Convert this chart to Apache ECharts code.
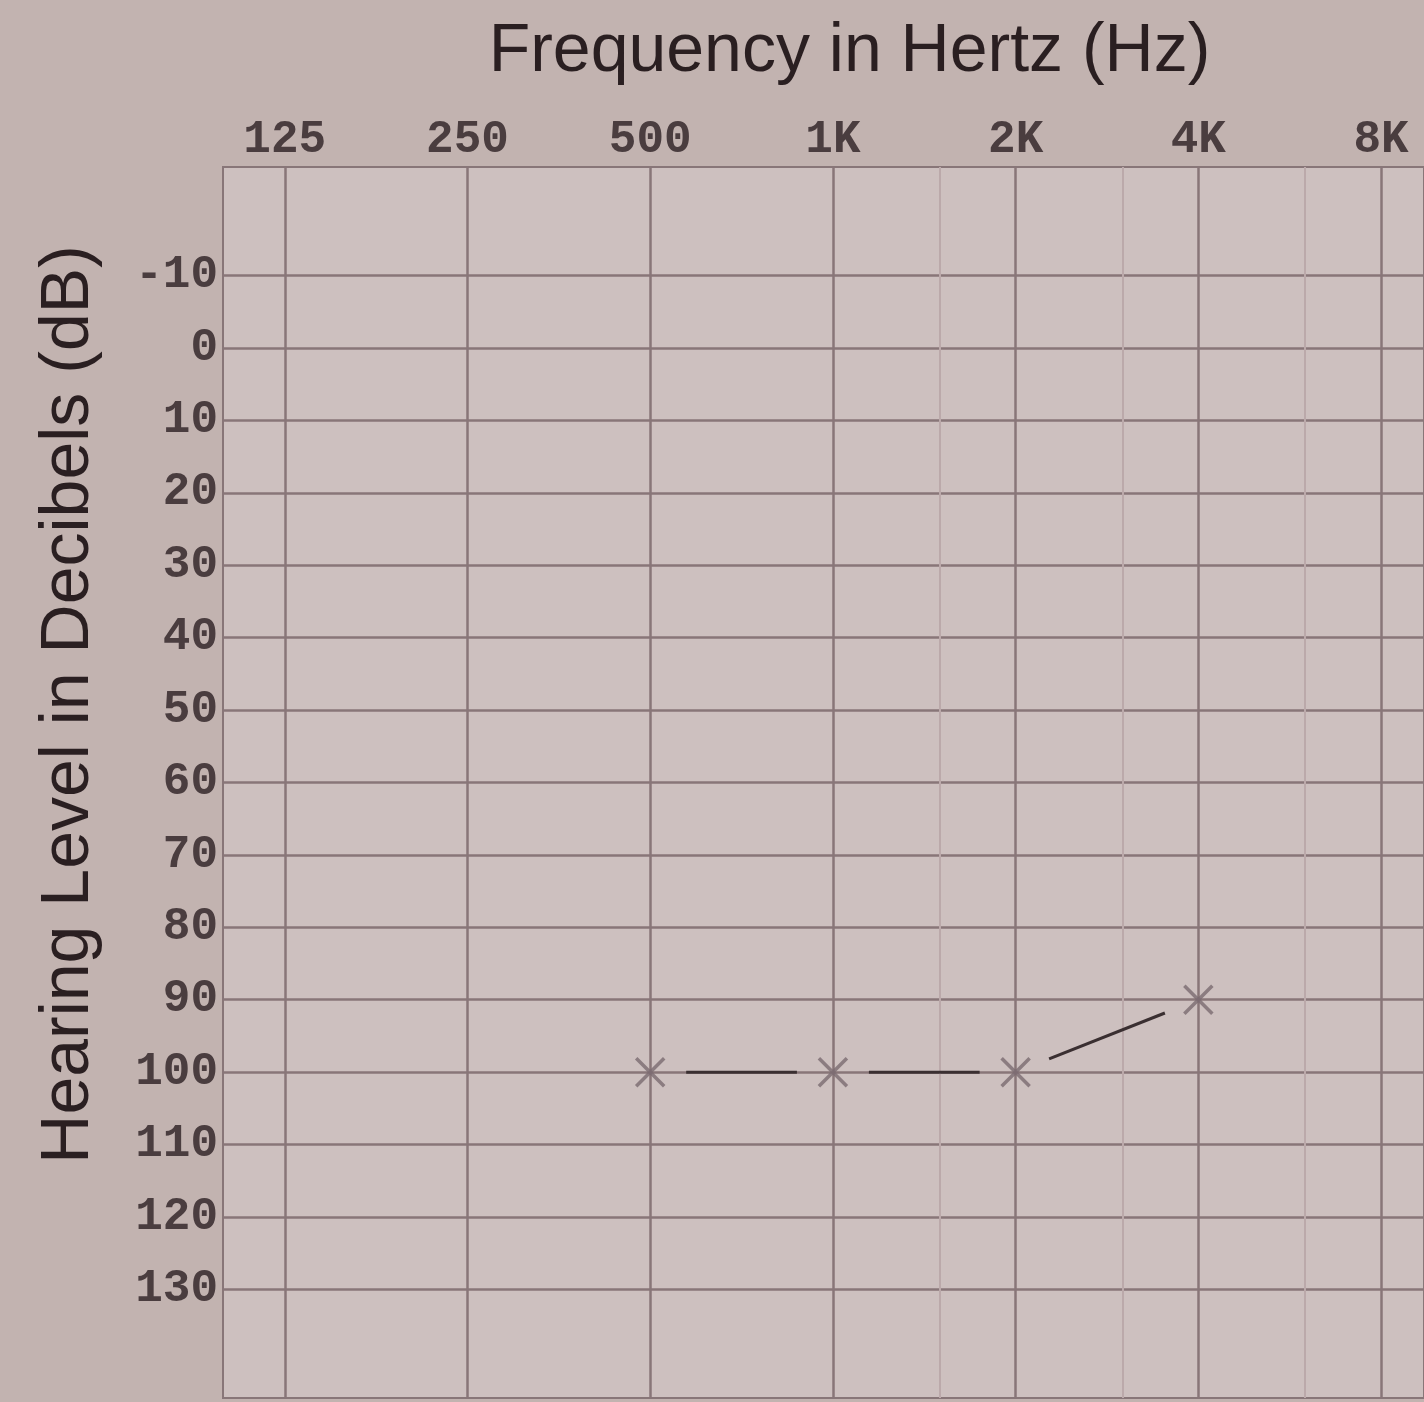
<!DOCTYPE html>
<html>
<head>
<meta charset="utf-8">
<script src="https://cdn.jsdelivr.net/npm/echarts@6/dist/echarts.min.js"></script>
<style>
  html, body { margin: 0; padding: 0; background: #c2b3b0; }
  #chart { width: 1424px; height: 1402px; }
</style>
</head>
<body>
<div id="chart"></div>
<script>
// frequencies across the top (Hz) and how they are printed
var freqs = [125, 250, 500, 1000, 2000, 4000, 8000];
var freqLabels = ['125', '250', '500', '1K', '2K', '4K', '8K'];
// faint half-octave lines
var midFreqs = [1500, 3000, 6000];
// hearing level rows (dB)
var dbTicks = [-10, 0, 10, 20, 30, 40, 50, 60, 70, 80, 90, 100, 110, 120, 130];
// measured thresholds
var testFreqs = [500, 1000, 2000, 4000];
var thresholds = [100, 100, 100, 90];

var chart = echarts.init(document.getElementById('chart'));

var gridLine = '#887678';
var labelFont = {
  fontFamily: 'Liberation Mono',
  fontWeight: 'bold',
  fontSize: 46,
  color: '#4a3d3f'
};

// x is plotted on a log2 scale
var xMin = Math.log2(125) - 0.338;
var xMax = Math.log2(8000) + 0.235;
var freqPos = freqs.map(function (f) { return Math.log2(f); });

function freqLabel(v) {
  var best = 0;
  for (var i = 1; i < freqPos.length; i++) {
    if (Math.abs(freqPos[i] - v) < Math.abs(freqPos[best] - v)) best = i;
  }
  return freqLabels[best];
}

var points = testFreqs.map(function (f, i) {
  return [Math.log2(f), thresholds[i]];
});
var segments = [];
for (var i = 0; i < points.length - 1; i++) {
  segments.push([points[i][0], points[i][1], points[i + 1][0], points[i + 1][1]]);
}

// line pieces stop short of the markers, like on the printed chart
function renderSegment(params, api) {
  var a = api.coord([api.value(0), api.value(1)]);
  var b = api.coord([api.value(2), api.value(3)]);
  var dx = b[0] - a[0], dy = b[1] - a[1];
  var len = Math.sqrt(dx * dx + dy * dy);
  var ux = dx / len, uy = dy / len;
  var gap = 36;
  return {
    type: 'line',
    shape: {
      x1: a[0] + ux * gap, y1: a[1] + uy * gap,
      x2: b[0] - ux * gap, y2: b[1] - uy * gap
    },
    style: { stroke: '#3a2f31', lineWidth: 3 }
  };
}

var option = {
  backgroundColor: '#c2b3b0',
  animation: false,
  grid: {
    left: 223,
    right: -3,
    top: 167,
    bottom: 4,
    show: true,
    backgroundColor: '#cdc0bf',
    borderColor: gridLine,
    borderWidth: 2
  },
  xAxis: [
    {
      type: 'value',
      position: 'top',
      min: xMin,
      max: xMax,
      name: 'Frequency in Hertz (Hz)',
      nameLocation: 'middle',
      nameGap: 81,
      nameTextStyle: {
        fontFamily: 'Liberation Sans', fontSize: 68, color: '#2a1f21',
        padding: [0, 0, 0, 52]
      },
      axisLine: { show: false },
      axisTick: { show: false, customValues: freqPos },
      axisLabel: {
        show: true,
        customValues: freqPos,
        formatter: freqLabel,
        margin: 4,
        fontFamily: labelFont.fontFamily,
        fontWeight: labelFont.fontWeight,
        fontSize: labelFont.fontSize,
        color: labelFont.color
      },
      splitLine: { show: true, lineStyle: { color: gridLine, width: 2.5 } }
    },
    {
      type: 'value',
      position: 'bottom',
      min: xMin,
      max: xMax,
      axisLine: { show: false },
      axisTick: { show: false, customValues: midFreqs.map(function (f) { return Math.log2(f); }) },
      axisLabel: { show: false },
      splitLine: { show: true, lineStyle: { color: '#bba9aa', width: 2 } }
    }
  ],
  yAxis: {
    type: 'value',
    inverse: true,
    min: -25,
    max: 145,
    name: 'Hearing Level in Decibels (dB)',
    nameLocation: 'middle',
    nameGap: 120,
    nameTextStyle: {
      fontFamily: 'Liberation Sans', fontSize: 68, color: '#2a1f21',
      padding: [0, 0, 0, 156]
    },
    axisLine: { show: false },
    axisTick: { show: false, customValues: dbTicks },
    axisLabel: {
      customValues: dbTicks,
      margin: 5,
      fontFamily: labelFont.fontFamily,
      fontWeight: labelFont.fontWeight,
      fontSize: labelFont.fontSize,
      color: labelFont.color
    },
    splitLine: { show: true, lineStyle: { color: gridLine, width: 2.5 } }
  },
  series: [
    {
      type: 'custom',
      renderItem: renderSegment,
      encode: { x: [0, 2], y: [1, 3] },
      data: segments,
      z: 3
    },
    {
      type: 'scatter',
      data: points,
      symbol: 'path://M0,0L10,10M10,0L0,10',
      symbolSize: 28,
      itemStyle: { color: 'none', borderColor: '#7b6a70', borderWidth: 3.5 },
      z: 4
    }
  ]
};

chart.setOption(option);
</script>
</body>
</html>
